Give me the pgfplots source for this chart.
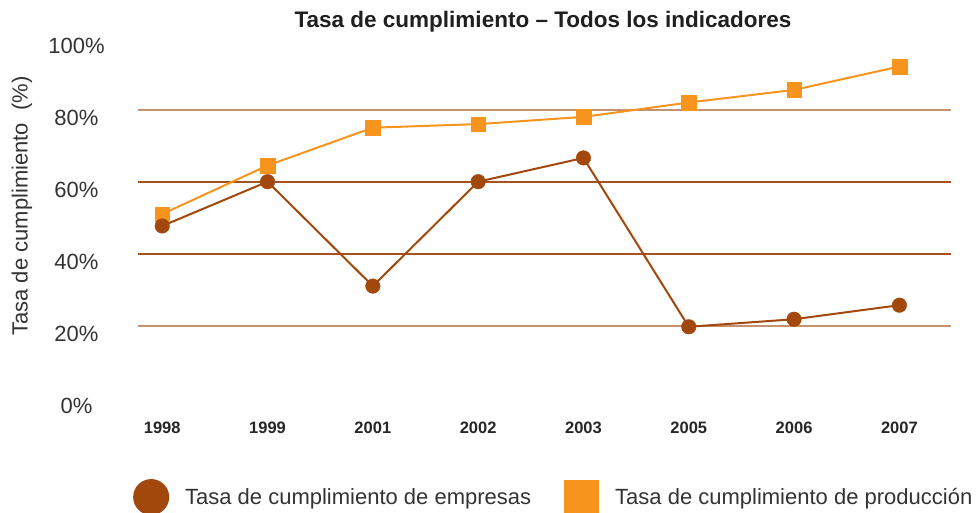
\documentclass[border=0pt]{standalone}
\usepackage{fontspec}
\setmainfont{Liberation Sans}
\usepackage{pgfplots}
\pgfplotsset{compat=1.18}
\definecolor{emp}{RGB}{163,72,12}
\definecolor{prod}{RGB}{247,148,29}
\definecolor{gridtan}{RGB}{196,146,110}
\definecolor{griddark}{RGB}{166,82,30}
\definecolor{txt}{RGB}{51,51,51}
\begin{document}
\begin{tikzpicture}[x=1pt,y=1pt]
\useasboundingbox (0,0) rectangle (980,512);
\begin{axis}[
  anchor=south west, at={(138pt,114.3pt)},
  width=813pt, height=360pt, scale only axis,
  xmin=-0.23, xmax=7.49, ymin=0, ymax=100,
  axis line style={draw=none},
  major tick length=0pt,
  xtick={0,...,7},
  xticklabels={1998,1999,2001,2002,2003,2005,2006,2007},
  xticklabel style={font=\fontsize{16.5}{19}\selectfont\bfseries, text=black!85, anchor=center, yshift=-30pt},
  ytick={0,20,40,60,80,100},
  yticklabels={0\%,20\%,40\%,60\%,80\%,100\%},
  yticklabel style={font=\fontsize{22}{26}\selectfont, text=txt, anchor=center, xshift=-61.5pt, yshift=-8pt},
  clip=false,
  legend columns=2,
  legend cell align=left,
  reverse legend,
  legend style={at={(-0.0062,-0.276)}, anchor=west, draw=none, fill=none, inner sep=0pt,
    font=\fontsize{22}{26}\selectfont, text=txt,
    /tikz/every odd column/.append style={column sep=14pt},
    /tikz/every even column/.append style={column sep=31pt}},
]
\addplot[draw=gridtan, line width=1.6pt, forget plot] coordinates {(-0.23,80) (7.49,80)};
\addplot[draw=griddark, line width=1.6pt, forget plot] coordinates {(-0.23,60) (7.49,60)};
\addplot[draw=griddark, line width=1.6pt, forget plot] coordinates {(-0.23,40) (7.49,40)};
\addplot[draw=gridtan, line width=1.6pt, forget plot] coordinates {(-0.23,20) (7.49,20)};
\addplot[prod, line width=2pt, mark=square*, mark size=7.3pt, mark options={line width=0.4pt},
  legend image code/.code={\fill[prod] (0pt,-16.5pt) rectangle (33pt,16.5pt);}]
  coordinates {(0,51) (1,64.5) (2,75) (3,76) (4,78) (5,82) (6,85.5) (7,92)};
\addlegendentry{Tasa de cumplimiento de producción}
\addplot[emp, line width=2pt, mark=*, mark size=7.3pt, mark options={line width=0.4pt},
  legend image code/.code={\fill[emp] (17pt,0pt) circle (17pt);}]
  coordinates {(0,47.7) (1,60) (2,31) (3,60) (4,66.6) (5,19.7) (6,21.8) (7,25.7)};
\addlegendentry{Tasa de cumplimiento de empresas}
\end{axis}
\node[rotate=90, font=\fontsize{22}{26}\selectfont, text=txt] at (22,306) {Tasa de cumplimiento\ \ (\%)};
\node[font=\fontsize{22.5}{26}\selectfont\bfseries, text=black!88] at (543,490) {Tasa de cumplimiento – Todos los indicadores};
\end{tikzpicture}
\end{document}
